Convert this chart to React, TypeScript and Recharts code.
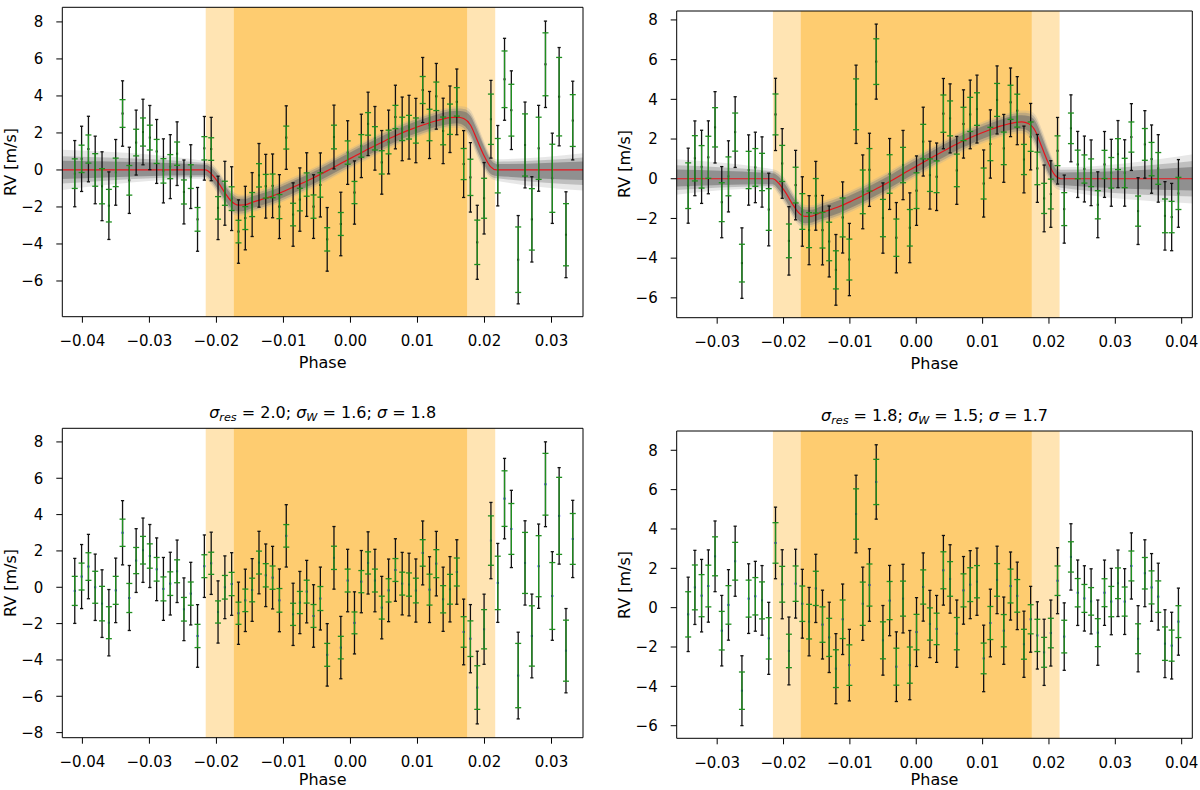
import React from 'react';
import { ComposedChart, XAxis, YAxis, Scatter, ErrorBar, Line, Area, ReferenceArea } from 'recharts';

const FONT = '"DejaVu Sans", sans-serif';

// ---- night A (left column) ----
const PHASE_A = [
  -0.04114, -0.04012, -0.0391, -0.03809, -0.03707, -0.03605, -0.03503, -0.03401, -0.033, -0.03198,
  -0.03096, -0.02994, -0.02892, -0.02791, -0.02689, -0.02587, -0.02485, -0.02383, -0.02282, -0.0218,
  -0.02078, -0.01976, -0.01874, -0.01773, -0.01671, -0.01569, -0.01467, -0.01365, -0.01264, -0.01162,
  -0.0106, -0.00958, -0.00856, -0.00755, -0.00653, -0.00551, -0.00449, -0.00347, -0.00246, -0.00144,
  -0.00042, 0.0006, 0.00162, 0.00263, 0.00365, 0.00467, 0.00569, 0.00671, 0.00772, 0.00874,
  0.00976, 0.01078, 0.0118, 0.01281, 0.01383, 0.01485, 0.01587, 0.01689, 0.0179, 0.01892,
  0.01994, 0.02096, 0.02198, 0.02299, 0.02401, 0.02503, 0.02605, 0.02707, 0.02808, 0.0291,
  0.03012, 0.03114, 0.03216, 0.03317,
];
const RV_A = [
  -0.2, 0.6, 1.13, 0, -0.88, -1.93, -0.13, 3.05, -0.56, 1.48,
  2.05, 1.75, 1.0, -0.05, 0.18, 0.88, -1.19, -0.36, -2.67, 1.17,
  1.13, -2.05, -1.26, -1.55, -3.33, -2.6, -1.87, -0.29, -0.88, -0.86,
  -1.98, 1.75, -2.41, -1.6, -0.79, -1.98, -0.81, -3.75, 1.78, -2.92,
  0.94, -1.22, 1.3, 2.49, 1.71, 0.41, 1.51, 2.86, 2.22, 2.31,
  2.13, 4.32, 2.43, 3.98, 2.11, 2.74, 3.68, 0.32, -0.4, -3.91,
  -1.53, 2.74, 0.23, 4.9, 3.23, -4.85, 1.35, -2.67, 1.17, 5.71,
  -0.45, 3.96, -3.5, 2.67,
];
const RES_A = [
  -0.2, 0.59, 1.14, 0, -0.9, -1.95, -0.17, 3.0, -0.59, 1.47,
  2.04, 1.72, 0.99, -0.09, 0.2, 0.88, -1.21, -0.35, -2.68, 1.16,
  1.32, -1.36, 0, 0.18, -1.43, -0.72, -0.15, 1.36, 0.66, 0.53,
  -0.72, 2.83, -1.49, -0.84, -0.24, -1.58, -0.62, -3.72, 1.62, -3.32,
  0.37, -1.96, 0.31, 1.34, 0.37, -1.12, -0.17, 0.95, 0.2, 0.15,
  -0.18, 1.89, -0.13, 1.3, -0.66, -0.11, 0.84, -2.46, -2.83, -5.52,
  -2.31, 2.57, 0.24, 4.88, 3.21, -4.86, 1.34, -2.68, 1.16, 5.67,
  -0.48, 3.93, -3.49, 2.66,
];
const ERR_A = [
  0.8, 0.74, 0.76, 0.88, 0.95, 0.88, 0.77, 0.75, 0.8, 0.72,
  0.76, 0.67, 0.65, 0.66, 0.65, 0.63, 0.65, 0.64, 0.64, 0.63,
  0.61, 0.61, 0.65, 0.64, 0.61, 0.62, 0.65, 0.63, 0.64, 0.64,
  0.65, 0.62, 0.61, 0.61, 0.63, 0.63, 0.66, 0.63, 0.64, 0.62,
  0.63, 0.6, 0.61, 0.61, 0.63, 0.63, 0.64, 0.63, 0.63, 0.64,
  0.68, 0.73, 0.85, 0.77, 0.75, 0.82, 0.77, 0.84, 0.98, 1.2,
  1.08, 1.36, 1.47, 1.53, 1.4, 1.77, 1.68, 1.66, 1.68, 1.7,
  1.84, 2.12, 1.68, 1.4,
];
const JIT_A = 1.6;

// ---- night B (right column) ----
const PHASE_B = [
  -0.03437, -0.03336, -0.03235, -0.03133, -0.03032, -0.02931, -0.0283, -0.02729, -0.02627, -0.02526,
  -0.02425, -0.02324, -0.02223, -0.02121, -0.0202, -0.01919, -0.01818, -0.01717, -0.01615, -0.01514,
  -0.01413, -0.01312, -0.01211, -0.01109, -0.01008, -0.00907, -0.00806, -0.00705, -0.00603, -0.00502,
  -0.00401, -0.003, -0.00199, -0.00097, 0.00004, 0.00105, 0.00206, 0.00307, 0.00409, 0.0051,
  0.00611, 0.00712, 0.00813, 0.00915, 0.01016, 0.01117, 0.01218, 0.01319, 0.01421, 0.01522,
  0.01623, 0.01724, 0.01825, 0.01927, 0.02028, 0.02129, 0.0223, 0.02331, 0.02433, 0.02534,
  0.02635, 0.02736, 0.02837, 0.02939, 0.0304, 0.03141, 0.03242, 0.03343, 0.03445, 0.03546,
  0.03647, 0.03748, 0.03849, 0.03951,
];
const RV_B = [
  -0.35, 1.03, 0.6, 1.08, 2.59, -1.18, 0.12, 2.35, -4.25, 0.44,
  0.57, 0.34, -1.55, 3.24, 0.77, -3.13, -0.32, -1.65, -2.59, -0.86,
  -2.59, -3.16, -4.59, -1.95, -4.07, 3.75, -0.66, 0.45, 5.9, -1.98,
  0.24, -2.97, 0.69, -2.47, -0.6, 1.87, 0.18, 0.1, 3.28, 3.04,
  0.42, 2.76, 3.24, 3.51, -0.24, 1.75, 3.97, 1.53, 3.85, 3.43,
  0.97, 2.12, 0.52, -0.99, -0.77, 1.41, -1.53, 2.54, 0.72, 0.49,
  0.3, -1.31, 0.72, 0.3, 1.24, 0.29, 2.1, -1.63, 1.73, 0.99,
  0.52, -1.87, -1.93, -0.74,
];
const RES_B = [
  -0.34, 1.03, 0.61, 1.1, 2.61, -1.17, 0.14, 2.36, -4.22, 0.46,
  0.58, 0.37, -1.56, 3.29, 1.19, -2.2, 1.22, 0.2, -0.71, 0.98,
  -0.86, -1.51, -3.1, -0.59, -2.92, 4.76, 0.2, 1.15, 6.39, -1.66,
  0.36, -3.0, 0.46, -2.92, -1.24, 1.05, -0.83, -1.08, 1.9, 1.46,
  -1.32, 0.88, 1.17, 1.32, -2.58, -0.78, 1.41, -1.17, 1.1, 0.6,
  -1.86, -0.59, -1.41, -2.27, -1.29, 1.37, -1.47, 2.58, 0.76, 0.47,
  0.32, -1.27, 0.76, 0.31, 1.24, 0.31, 2.12, -1.58, 1.75, 1.03,
  0.56, -1.83, -1.93, -0.71,
];
const ERR_B = [
  1.15, 1.14, 1.07, 1.06, 0.99, 0.98, 0.98, 0.96, 0.95, 0.94,
  0.95, 0.94, 1.05, 1.03, 0.91, 0.85, 0.9, 0.9, 0.88, 0.87,
  0.9, 0.97, 0.96, 0.98, 1.03, 1.28, 1.1, 1.07, 1.15, 0.94,
  0.97, 0.94, 0.89, 0.92, 0.9, 0.87, 0.82, 0.8, 0.94, 0.88,
  0.82, 0.84, 0.86, 0.82, 0.78, 0.84, 0.83, 0.82, 0.86, 0.83,
  0.76, 0.74, 0.82, 0.76, 0.75, 0.75, 0.83, 0.77, 0.72, 0.71,
  0.7, 0.71, 0.71, 0.77, 0.78, 0.74, 0.76, 0.76, 0.8, 0.84,
  0.8, 0.85, 0.79, 0.81,
];
const JIT_B = 1.5;

// ---- RM model (red) and spread of posterior models (gray) ----
const MODEL_X = [
  -0.0435, -0.0216, -0.0208, -0.0197, -0.0187, -0.0177, -0.0167, -0.0157, -0.0147, -0.0137,
  -0.0116, -0.0096, -0.0075, -0.0055, -0.0035, -0.0014, 0.0006, 0.0026, 0.0047, 0.0067,
  0.0087, 0.0108, 0.0128, 0.0148, 0.0159, 0.0169, 0.0179, 0.0189, 0.0199, 0.0209,
  0.0218, 0.042,
];
const MODEL_Y = [
  0, 0, -0.2, -0.69, -1.25, -1.72, -1.9, -1.88, -1.75, -1.64,
  -1.4, -1.1, -0.76, -0.42, -0.05, 0.36, 0.74, 1.12, 1.5, 1.85,
  2.15, 2.43, 2.66, 2.83, 2.86, 2.78, 2.43, 1.62, 0.8, 0.18,
  0, 0,
];
const BAND_CORE = [
  0.5, 0.28, 0.32, 0.38, 0.38, 0.38, 0.34, 0.32, 0.32, 0.32,
  0.32, 0.32, 0.32, 0.32, 0.32, 0.32, 0.32, 0.32, 0.32, 0.32,
  0.32, 0.32, 0.32, 0.34, 0.34, 0.38, 0.48, 0.52, 0.48, 0.38,
  0.32, 0.6,
];
const BAND_MID = [
  0.75, 0.38, 0.45, 0.52, 0.52, 0.5, 0.46, 0.44, 0.44, 0.44,
  0.44, 0.44, 0.44, 0.44, 0.44, 0.44, 0.44, 0.44, 0.44, 0.44,
  0.44, 0.44, 0.44, 0.46, 0.46, 0.52, 0.64, 0.7, 0.62, 0.5,
  0.45, 0.9,
];
const BAND_FAINT = [
  1.1, 0.48, 0.58, 0.65, 0.65, 0.62, 0.58, 0.54, 0.54, 0.54,
  0.54, 0.54, 0.54, 0.54, 0.54, 0.54, 0.54, 0.54, 0.54, 0.54,
  0.54, 0.54, 0.54, 0.56, 0.58, 0.65, 0.8, 0.88, 0.78, 0.62,
  0.58, 1.25,
];

// transit windows (T14 light, T23 dark)
const T14 = [-0.0216, 0.0216];
const T23 = [-0.0174, 0.0174];

const X_TICKS_A = [-0.04, -0.03, -0.02, -0.01, 0, 0.01, 0.02, 0.03];
const X_TICKS_B = [-0.03, -0.02, -0.01, 0, 0.01, 0.02, 0.03, 0.04];
const Y_TICKS_6 = [-6, -4, -2, 0, 2, 4, 6, 8];
const Y_TICKS_8 = [-8, -6, -4, -2, 0, 2, 4, 6, 8];

const YAXIS_W = 60;
const XAXIS_H = 30;

function makePoints(xs, ys, errs, jit) {
  return xs.map((x, i) => ({
    x,
    y: ys[i],
    eg: errs[i],
    eb: Math.sqrt(errs[i] * errs[i] + jit * jit),
  }));
}

const MODEL_DATA = MODEL_X.map((x, i) => ({
  x,
  y: MODEL_Y[i],
  core: [MODEL_Y[i] - BAND_CORE[i], MODEL_Y[i] + BAND_CORE[i]],
  mid: [MODEL_Y[i] - BAND_MID[i], MODEL_Y[i] + BAND_MID[i]],
  faint: [MODEL_Y[i] - BAND_FAINT[i], MODEL_Y[i] + BAND_FAINT[i]],
}));

const fmtX = (v) => (Math.abs(v) < 1e-9 ? '0.00' : v.toFixed(2).replace('-', '\u2212'));
const fmtY = (v) => String(v).replace('-', '\u2212');

const dotShape = (color) => (props) => {
  if (props.cx == null || props.cy == null) return null;
  return <rect x={props.cx - 1} y={props.cy - 1} width={2} height={2} fill={color} />;
};

function Panel({ box, xDomain, yDomain, xTicks, yTicks, points, dotColor, showModel }) {
  const margin = {
    top: box.t,
    left: box.l - YAXIS_W,
    right: 1200 - box.r,
    bottom: 790 - box.b - XAXIS_H,
  };
  const tick = { fontSize: 15, fill: '#000', fontFamily: FONT };
  return (
    <div style={{ position: 'absolute', left: 0, top: 0 }}>
      <ComposedChart width={1200} height={790} margin={margin}>
        <XAxis
          dataKey="x"
          type="number"
          domain={xDomain}
          allowDataOverflow
          ticks={xTicks}
          tickFormatter={fmtX}
          tick={tick}
          tickSize={6}
          tickMargin={13}
          axisLine={false}
          tickLine={{ stroke: '#000' }}
          height={XAXIS_H}
          interval={0}
        />
        <YAxis
          type="number"
          domain={yDomain}
          allowDataOverflow
          ticks={yTicks}
          tickFormatter={fmtY}
          tick={tick}
          tickSize={6}
          tickMargin={13}
          axisLine={false}
          tickLine={{ stroke: '#000' }}
          width={YAXIS_W}
          interval={0}
        />
        <ReferenceArea x1={T14[0]} x2={T14[1]} y1={yDomain[0]} y2={yDomain[1]} fill="#ffe4b3" fillOpacity={1} stroke="none" zIndex={-20} />
        <ReferenceArea x1={T23[0]} x2={T23[1]} y1={yDomain[0]} y2={yDomain[1]} fill="#fecc70" fillOpacity={1} stroke="none" zIndex={-10} />
        <Scatter data={points} dataKey="y" isAnimationActive={false} shape={dotShape(dotColor)} zIndex={50}>
          <ErrorBar dataKey="eb" direction="y" width={1.6} stroke="#111" strokeWidth={1.3} isAnimationActive={false} />
          <ErrorBar dataKey="eg" direction="y" width={3} stroke="#1f8f1f" strokeWidth={1.3} isAnimationActive={false} />
        </Scatter>
        {showModel && (
          <Area data={MODEL_DATA} dataKey="faint" type="monotone" stroke="none" fill="#a0a0a0" fillOpacity={0.25} isAnimationActive={false} dot={false} activeDot={false} zIndex={60} />
        )}
        {showModel && (
          <Area data={MODEL_DATA} dataKey="mid" type="monotone" stroke="none" fill="#858585" fillOpacity={0.4} isAnimationActive={false} dot={false} activeDot={false} zIndex={61} />
        )}
        {showModel && (
          <Area data={MODEL_DATA} dataKey="core" type="monotone" stroke="none" fill="#6a6a6a" fillOpacity={0.55} isAnimationActive={false} dot={false} activeDot={false} zIndex={62} />
        )}
        {showModel && (
          <Line data={MODEL_DATA} dataKey="y" type="monotone" stroke="#e8141c" strokeWidth={1.2} dot={false} activeDot={false} isAnimationActive={false} zIndex={70} />
        )}
        <ReferenceArea x1={xDomain[0]} x2={xDomain[1]} y1={yDomain[0]} y2={yDomain[1]} fill="none" stroke="#000" strokeWidth={1} zIndex={80} />
      </ComposedChart>
    </div>
  );
}

function AxisText({ x, y, rotate, children }) {
  return (
    <div
      style={{
        position: 'absolute',
        left: x,
        top: y,
        transform: `translate(-50%, -50%)${rotate ? ' rotate(-90deg)' : ''}`,
        fontFamily: FONT,
        fontSize: 16,
        whiteSpace: 'nowrap',
        lineHeight: 1,
        color: '#000',
      }}
    >
      {children}
    </div>
  );
}

function Title({ x, baseline, res, w, s }) {
  const sub = { fontSize: '70%', fontStyle: 'italic', verticalAlign: '-0.25em' };
  return (
    <div
      style={{
        position: 'absolute',
        left: x,
        top: baseline - 13.5,
        transform: 'translateX(-50%)',
        fontFamily: FONT,
        fontSize: 16,
        lineHeight: 1,
        whiteSpace: 'nowrap',
        color: '#000',
      }}
    >
      <i>σ</i><span style={sub}>res</span> = {res}; <i>σ</i><span style={sub}>W</span> = {w}; <i>σ</i> = {s}
    </div>
  );
}

const BOX_TL = { l: 62.3, t: 7.3, r: 583, b: 316.7 };
const BOX_TR = { l: 676.7, t: 11, r: 1192.3, b: 317.7 };
const BOX_BL = { l: 62.3, t: 428.3, r: 583, b: 737.7 };
const BOX_BR = { l: 676.7, t: 431, r: 1192.3, b: 738.3 };

export default function App() {
  const ptsA = makePoints(PHASE_A, RV_A, ERR_A, JIT_A);
  const resA = makePoints(PHASE_A, RES_A, ERR_A, JIT_A);
  const ptsB = makePoints(PHASE_B, RV_B, ERR_B, JIT_B);
  const resB = makePoints(PHASE_B, RES_B, ERR_B, JIT_B);
  const xDomA = [-0.043, 0.0347];
  const xDomB = [-0.0361, 0.0416];
  const boxes = [BOX_TL, BOX_TR, BOX_BL, BOX_BR];

  return (
    <div style={{ position: 'absolute', left: 0, top: 0, width: 1200, height: 790, background: '#fff', overflow: 'hidden' }}>
      <Panel box={BOX_TL} xDomain={xDomA} yDomain={[-7.93, 8.79]} xTicks={X_TICKS_A} yTicks={Y_TICKS_6} points={ptsA} dotColor="#000" showModel />
      <Panel box={BOX_TR} xDomain={xDomB} yDomain={[-7.0, 8.45]} xTicks={X_TICKS_B} yTicks={Y_TICKS_6} points={ptsB} dotColor="#000" showModel />
      <Panel box={BOX_BL} xDomain={xDomA} yDomain={[-8.28, 8.75]} xTicks={X_TICKS_A} yTicks={Y_TICKS_8} points={resA} dotColor="#1010ff" showModel={false} />
      <Panel box={BOX_BR} xDomain={xDomB} yDomain={[-6.64, 8.98]} xTicks={X_TICKS_B} yTicks={Y_TICKS_6} points={resB} dotColor="#1010ff" showModel={false} />

      {boxes.map((b, i) => (
        <React.Fragment key={i}>
          <AxisText x={(b.l + b.r) / 2} y={Math.min(b.b + 46.5, 780)}>Phase</AxisText>
          <AxisText x={b.l - 51.5} y={(b.t + b.b) / 2} rotate>RV [m/s]</AxisText>
        </React.Fragment>
      ))}

      <Title x={(BOX_BL.l + BOX_BL.r) / 2} baseline={418} res="2.0" w="1.6" s="1.8" />
      <Title x={(BOX_BR.l + BOX_BR.r) / 2} baseline={421} res="1.8" w="1.5" s="1.7" />
    </div>
  );
}
